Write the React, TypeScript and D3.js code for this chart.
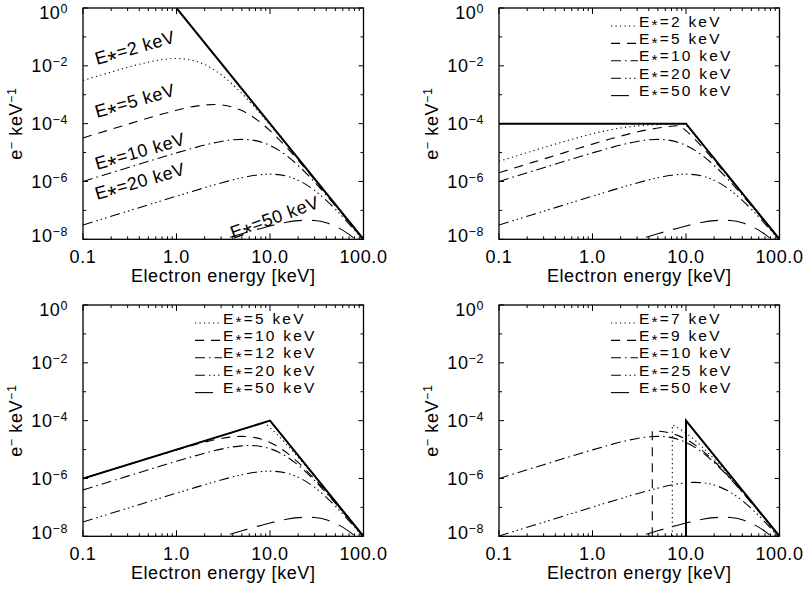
import React from 'react';
import * as d3 from 'd3';

type Pt = [number, number];

// ---------- axes ----------
const X_DOMAIN: [number, number] = [0.1, 100];
const Y_DOMAIN: [number, number] = [1e-8, 1];
const X_MAJOR = [0.1, 1, 10, 100];
const X_MAJOR_LABELS = ['0.1', '1.0', '10.0', '100.0'];
const Y_MAJOR = [1e-8, 1e-6, 1e-4, 1e-2, 1];
const Y_MAJOR_EXP = ['−8', '−6', '−4', '−2', '0'];
const Y_MINOR = [1e-7, 1e-5, 1e-3, 1e-1];
const X_TITLE = 'Electron energy [keV]';

// ---------- panel A (power law) ----------
const A_SOLID: Pt[] = [[1, 1], [10, 1e-4], [100, 1e-8]];
const A_E2: Pt[] = [[0.1, 3.105e-3], [0.2, 6.1e-3], [0.3, 8.87e-3], [0.5, 1.342e-2], [0.7, 1.639e-2], [1, 1.789e-2], [1.5, 1.536e-2], [2, 1.105e-2], [3, 4.925e-3], [4, 2.236e-3], [5, 1.104e-3], [7, 3.423e-4], [10, 9.07e-5], [15, 1.89e-5], [20, 6.1e-6], [30, 1.221e-6], [40, 3.88e-7], [50, 1.594e-7], [70, 4.157e-8], [100, 9.99e-9]];
const A_E5: Pt[] = [[0.1, 3.198e-5], [0.2, 6.375e-5], [0.3, 9.514e-5], [0.5, 1.561e-4], [0.7, 2.135e-4], [1, 2.902e-4], [1.5, 3.87e-4], [2, 4.416e-4], [2.5, 4.579e-4], [3, 4.45e-4], [4, 3.717e-4], [5, 2.829e-4], [7, 1.486e-4], [10, 5.724e-5], [15, 1.518e-5], [20, 5.37e-6], [30, 1.153e-6], [40, 3.757e-7], [50, 1.561e-7], [70, 4.113e-8], [100, 9.94e-9]];
const A_E10: Pt[] = [[0.1, 1.0e-6], [0.2, 1.998e-6], [0.3, 2.993e-6], [0.5, 4.969e-6], [0.7, 6.914e-6], [1, 9.754e-6], [1.5, 1.418e-5], [2, 1.814e-5], [3, 2.417e-5], [4, 2.76e-5], [5, 2.862e-5], [6, 2.781e-5], [7, 2.583e-5], [10, 1.768e-5], [15, 7.875e-6], [20, 3.578e-6], [30, 9.487e-7], [40, 3.357e-7], [50, 1.45e-7], [70, 3.961e-8], [100, 9.75e-9]];
const A_E20: Pt[] = [[0.1, 3.125e-8], [0.2, 6.248e-8], [0.3, 9.37e-8], [0.5, 1.56e-7], [0.7, 2.181e-7], [1, 3.105e-7], [1.5, 4.622e-7], [2, 6.098e-7], [3, 8.866e-7], [4, 1.133e-6], [5, 1.342e-6], [7, 1.639e-6], [10, 1.789e-6], [15, 1.536e-6], [20, 1.105e-6], [30, 4.925e-7], [40, 2.236e-7], [50, 1.104e-7], [70, 3.423e-8], [100, 9.07e-9]];
const A_E50: Pt[] = [[1, 3.198e-9], [2, 6.375e-9], [3, 9.514e-9], [5, 1.561e-8], [7, 2.135e-8], [10, 2.902e-8], [15, 3.87e-8], [20, 4.416e-8], [25, 4.579e-8], [30, 4.45e-8], [40, 3.717e-8], [50, 2.829e-8], [70, 1.486e-8], [100, 5.724e-9]];
const A_LABELS = ['2', '5', '10', '20', '50'];

// ---------- panel B (flat below 10 keV) ----------
const B_SOLID: Pt[] = [[0.1, 1e-4], [10, 1e-4], [100, 1e-8]];
const B_E2: Pt[] = [[0.1, 4.994e-6], [0.2, 9.95e-6], [0.3, 1.483e-5], [0.5, 2.425e-5], [0.7, 3.304e-5], [1, 4.472e-5], [1.5, 6.0e-5], [2, 7.071e-5], [3, 8.321e-5], [4, 8.944e-5], [5, 9.285e-5], [7, 9.615e-5], [9, 9.762e-5], [9.8, 9.798e-5], [10, 9.066e-5], [12, 4.503e-5], [15, 1.89e-5], [20, 6.1e-6], [30, 1.221e-6], [40, 3.88e-7], [50, 1.594e-7], [70, 4.157e-8], [100, 9.99e-9]];
const B_E5: Pt[] = [[0.1, 2.0e-6], [0.2, 3.997e-6], [0.3, 5.989e-6], [0.5, 9.95e-6], [0.7, 1.386e-5], [1, 1.961e-5], [1.5, 2.873e-5], [2, 3.714e-5], [3, 5.145e-5], [4, 6.247e-5], [5, 7.071e-5], [6, 7.682e-5], [7, 8.137e-5], [8, 8.48e-5], [8.66, 8.66e-5], [9, 7.778e-5], [10, 5.724e-5], [12, 3.232e-5], [15, 1.518e-5], [20, 5.37e-6], [30, 1.153e-6], [40, 3.757e-7], [50, 1.561e-7], [70, 4.113e-8], [100, 9.94e-9]];
const B_E10: Pt[] = A_E10;
const B_E20: Pt[] = A_E20;
const B_E50: Pt[] = A_E50;
const B_LEGEND = ['2', '5', '10', '20', '50'];

// ---------- panel C (rising below 10 keV) ----------
const C_SOLID: Pt[] = [[0.1, 1e-6], [10, 1e-4], [100, 1e-8]];
const C_E5: Pt[] = [[0.1, 1e-6], [1, 1e-5], [5, 5e-5], [7, 7e-5], [8, 8e-5], [8.66, 8.66e-5], [9, 7.778e-5], [10, 5.724e-5], [12, 3.232e-5], [15, 1.518e-5], [20, 5.37e-6], [30, 1.153e-6], [40, 3.757e-7], [50, 1.561e-7], [70, 4.113e-8], [100, 9.94e-9]];
const C_E10: Pt[] = A_E10;
const C_E12: Pt[] = [[0.1, 4.018e-7], [0.2, 8.03e-7], [0.3, 1.204e-6], [0.5, 2.0e-6], [0.7, 2.789e-6], [1, 3.951e-6], [1.5, 5.799e-6], [2, 7.503e-6], [3, 1.036e-5], [4, 1.235e-5], [5, 1.346e-5], [6, 1.38e-5], [7, 1.352e-5], [8, 1.282e-5], [10, 1.075e-5], [15, 5.735e-6], [20, 2.897e-6], [30, 8.52e-7], [40, 3.148e-7], [50, 1.391e-7], [70, 3.875e-8], [100, 9.65e-9]];
const C_E20: Pt[] = A_E20;
const C_E50: Pt[] = A_E50;
const C_LEGEND = ['5', '10', '12', '20', '50'];

// ---------- panel D (sharp cutoff at 10 keV) ----------
const D_SOLID: Pt[] = [[10, 1e-8], [10, 1e-4], [100, 1e-8]];
const D_E7: Pt[] = [[7.1414, 1e-8], [7.1414, 7.141e-5], [7.5, 6.6e-5], [8, 5.894e-5], [10, 3.69e-5], [15, 1.207e-5], [20, 4.68e-6], [30, 1.081e-6], [40, 3.623e-7], [50, 1.524e-7], [70, 4.063e-8], [100, 9.88e-9]];
const D_E9: Pt[] = [[4.3589, 1e-8], [4.3589, 4.359e-5], [5, 4.32e-5], [6, 4.053e-5], [7, 3.633e-5], [8, 3.16e-5], [10, 2.269e-5], [15, 9.158e-6], [20, 3.94e-6], [30, 9.953e-7], [40, 3.453e-7], [50, 1.477e-7], [70, 3.998e-8], [100, 9.8e-9]];
const D_E10: Pt[] = A_E10;
const D_E25: Pt[] = [[0.1, 1.024e-8], [0.2, 2.048e-8], [0.3, 3.071e-8], [0.5, 5.115e-8], [0.7, 7.154e-8], [1, 1.02e-7], [1.5, 1.522e-7], [2, 2.016e-7], [3, 2.963e-7], [4, 3.845e-7], [5, 4.64e-7], [7, 5.934e-7], [10, 7.065e-7], [12, 7.317e-7], [15, 7.12e-7], [20, 5.945e-7], [30, 3.304e-7], [40, 1.712e-7], [50, 9.16e-8], [70, 3.085e-8], [100, 8.59e-9]];
const D_E50: Pt[] = A_E50;
const D_LEGEND = ['7', '9', '10', '25', '50'];

// ---------- styles / layout ----------
const DASHES = ['1.2 3.3', '9 7', '10 4 1.5 4', '10 4 1.5 3 1.5 3 1.5 4', '18 10'];
const FONT = "'Liberation Sans', Arial, sans-serif";
const PW = 280.5;
const PH = 231.3;
const A_LABEL_POS = [
  { dx: 14, dy: 57, rot: -16 },
  { dx: 14, dy: 110, rot: -16 },
  { dx: 14, dy: 162, rot: -16 },
  { dx: 14, dy: 192, rot: -16 },
  { dx: 150, dy: 231, rot: -20 },
];

type PanelDef = {
  id: string;
  x0: number;
  y0: number;
  solid: Pt[];
  series: Pt[][];
  legend?: string[];
  labels?: string[];
};

const PANELS: PanelDef[] = [
  { id: 'a', x0: 83, y0: 8, solid: A_SOLID, series: [A_E2, A_E5, A_E10, A_E20, A_E50], labels: A_LABELS },
  { id: 'b', x0: 499, y0: 8, solid: B_SOLID, series: [B_E2, B_E5, B_E10, B_E20, B_E50], legend: B_LEGEND },
  { id: 'c', x0: 83, y0: 305, solid: C_SOLID, series: [C_E5, C_E10, C_E12, C_E20, C_E50], legend: C_LEGEND },
  { id: 'd', x0: 499, y0: 305, solid: D_SOLID, series: [D_E7, D_E9, D_E10, D_E25, D_E50], legend: D_LEGEND },
];

// "E*=<v> keV" with the asterisk lowered toward mid height, like the reference
function EStar({ v, fs, big }: { v: string; fs: number; big: boolean }) {
  const scale = big ? 1.3 : 1;
  const d = fs * (big ? 0.4 : 0.24);
  return (
    <>
      E<tspan dy={d} fontSize={fs * scale}>*</tspan>
      <tspan dy={-d} fontSize={fs}>={v} keV</tspan>
    </>
  );
}

function Panel({ p }: { p: PanelDef }) {
  const xs = d3.scaleLog().domain(X_DOMAIN).range([p.x0, p.x0 + PW]);
  const ys = d3.scaleLog().domain(Y_DOMAIN).range([p.y0 + PH, p.y0]);
  const x1 = p.x0 + PW;
  const y1 = p.y0 + PH;
  const mono = d3.line<[number, number]>().curve(d3.curveMonotoneX);
  const lin = d3.line<[number, number]>();
  const toPx = (pts: Pt[]) => pts.map(([e, f]) => [xs(e), ys(f)] as [number, number]);
  const curvePath = (pts: Pt[]) => {
    const px = toPx(pts);
    if (pts.length > 2 && pts[0][0] === pts[1][0]) {
      const rest = mono(px.slice(1)) || '';
      return `M${px[0][0]},${px[0][1]}L` + rest.slice(1);
    }
    return mono(px) || '';
  };
  const xMinor = xs.ticks().filter((t) => !X_MAJOR.some((m) => Math.abs(m - t) / m < 1e-6));
  const clipId = `clip-${p.id}`;
  const LFS = 15.5;
  return (
    <g>
      <defs>
        <clipPath id={clipId}>
          <rect x={p.x0} y={p.y0} width={PW} height={PH} />
        </clipPath>
      </defs>
      <g clipPath={`url(#${clipId})`} fill="none" stroke="#000">
        <path d={lin(toPx(p.solid)) || ''} strokeWidth={2} />
        {p.series.map((s, i) => (
          <path key={i} d={curvePath(s)} strokeWidth={1.1} strokeDasharray={DASHES[i]} />
        ))}
      </g>
      <rect x={p.x0} y={p.y0} width={PW} height={PH} fill="none" stroke="#000" strokeWidth={1.3} />
      <g stroke="#000" strokeWidth={1}>
        {X_MAJOR.map((t) => (
          <g key={'xM' + t}>
            <line x1={xs(t)} x2={xs(t)} y1={y1} y2={y1 - 6} />
            <line x1={xs(t)} x2={xs(t)} y1={p.y0} y2={p.y0 + 6} />
          </g>
        ))}
        {xMinor.map((t) => (
          <g key={'xm' + t}>
            <line x1={xs(t)} x2={xs(t)} y1={y1} y2={y1 - 3} />
            <line x1={xs(t)} x2={xs(t)} y1={p.y0} y2={p.y0 + 3} />
          </g>
        ))}
        {Y_MAJOR.map((t) => (
          <g key={'yM' + t}>
            <line y1={ys(t)} y2={ys(t)} x1={p.x0} x2={p.x0 + 5} />
            <line y1={ys(t)} y2={ys(t)} x1={x1} x2={x1 - 5} />
          </g>
        ))}
        {Y_MINOR.map((t) => (
          <g key={'ym' + t}>
            <line y1={ys(t)} y2={ys(t)} x1={p.x0} x2={p.x0 + 3} />
            <line y1={ys(t)} y2={ys(t)} x1={x1} x2={x1 - 3} />
          </g>
        ))}
      </g>
      <g fontFamily={FONT} fill="#000" fontSize={18} letterSpacing={0.6}>
        {X_MAJOR.map((t, i) => (
          <text key={'xl' + t} x={xs(t)} y={y1 + 23.5} textAnchor="middle">
            {X_MAJOR_LABELS[i]}
          </text>
        ))}
        {Y_MAJOR.map((t, i) => {
          const shift = i === 0 ? -4.3 : i === Y_MAJOR.length - 1 ? 4.8 : 0;
          return (
            <text key={'yl' + t} x={p.x0 - 15} y={ys(t) + 6.5 + shift} textAnchor="end">
              10
              <tspan dy={-6} fontSize={12.5}>
                {Y_MAJOR_EXP[i]}
              </tspan>
            </text>
          );
        })}
        <text x={(p.x0 + x1) / 2} y={y1 + 43} textAnchor="middle">
          {X_TITLE}
        </text>
        <text transform={`translate(${p.x0 - 61},${(p.y0 + y1) / 2}) rotate(-90)`} textAnchor="middle">
          e<tspan dy={-6} fontSize={12.5}>−</tspan>
          <tspan dy={6}> keV</tspan>
          <tspan dy={-6} fontSize={12.5}>−1</tspan>
        </text>
        {p.labels &&
          p.labels.map((l, i) => (
            <text
              key={'al' + i}
              transform={`translate(${p.x0 + A_LABEL_POS[i].dx},${p.y0 + A_LABEL_POS[i].dy}) rotate(${A_LABEL_POS[i].rot})`}
            >
              <EStar v={l} fs={18} big={true} />
            </text>
          ))}
        {p.legend &&
          p.legend.map((l, i) => {
            const yc = p.y0 + 13 + i * 17.4;
            return (
              <g key={'lg' + i}>
                <line
                  x1={p.x0 + 112}
                  x2={p.x0 + 139}
                  y1={yc + 5}
                  y2={yc + 5}
                  stroke="#000"
                  strokeWidth={1.1}
                  strokeDasharray={DASHES[i]}
                />
                <text x={p.x0 + 140} y={yc + 5.5} fontSize={LFS} letterSpacing={2.2}>
                  <EStar v={l} fs={LFS} big={false} />
                </text>
              </g>
            );
          })}
      </g>
    </g>
  );
}

export default function App() {
  return (
    <svg
      width={803}
      height={591}
      viewBox="0 0 803 591"
      style={{ position: 'absolute', left: 0, top: 0, background: '#fff' }}
    >
      <rect x={0} y={0} width={803} height={591} fill="#fff" />
      {PANELS.map((p) => (
        <Panel key={p.id} p={p} />
      ))}
    </svg>
  );
}
